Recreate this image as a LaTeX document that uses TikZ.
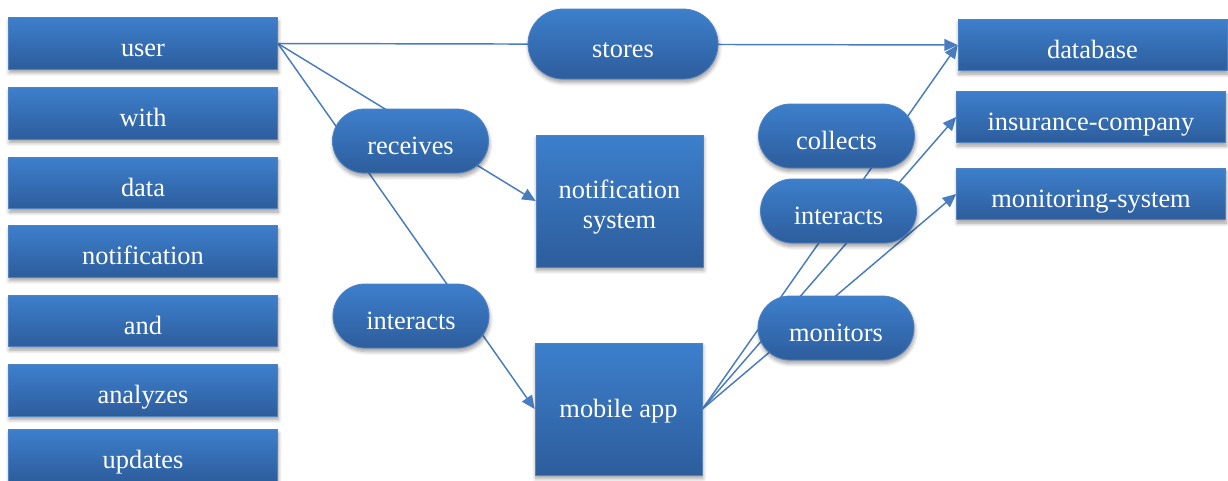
\documentclass[tikz,border=0pt]{standalone}
\usepackage{fontspec}
\setmainfont{Liberation Serif}
\newfontfamily\boxface{Liberation Serif}
\usetikzlibrary{arrows.meta,shadows.blur,backgrounds}

\definecolor{boxtop}{RGB}{61,127,204}
\definecolor{boxbot}{RGB}{45,93,156}
\definecolor{boxline}{RGB}{80,130,192}
\definecolor{wirecol}{RGB}{72,124,190}

\tikzset{
  boxtext/.style={text=white, align=center,
    font=\boxface\fontsize{19.8}{22.5}\selectfont},
  blockfill/.style={top color=boxtop, bottom color=boxbot, draw=boxline,
    line width=0.6pt, inner sep=0pt, boxtext,
    blur shadow={shadow xshift=0.6pt, shadow yshift=-2.6pt,
      shadow blur radius=2.8pt, shadow blur steps=6, shadow opacity=38}},
  oneline/.style={text height=17.6pt, text depth=4.3pt},
  lowline/.style={text height=21.6pt, text depth=1.5pt},
  wordbox/.style={blockfill, lowline, rectangle, minimum width=201.75pt, minimum height=38.5pt},
  bigbox/.style={blockfill, rectangle, minimum width=125.25pt, minimum height=99pt},
  verbpill/.style={blockfill, lowline, rectangle, rounded corners=23.9pt,
    minimum width=117pt, minimum height=48pt},
  wire/.style={draw=wirecol, line width=1.1pt},
  arrowwire/.style={wire, -{Triangle[length=10pt,width=9pt]}},
}

\begin{document}
\begin{tikzpicture}[x=0.75pt, y=-0.75pt]
  \useasboundingbox (0,0) rectangle (1228,480);

  % left column of words
  \node[wordbox] (user)  at (143,43.5)  {user};
  \node[wordbox] (with)  at (143,113.5) {with};
  \node[wordbox] (data)  at (143,183)   {data};
  \node[wordbox] (notif) at (143,251.5) {notification};
  \node[wordbox] (and)   at (143,321)   {and};
  \node[wordbox] (anal)  at (143,390.5) {analyzes};
  \node[wordbox] (upd)   at (143,455.5) {updates};

  % central entities
  \node[bigbox, label={[boxtext, yshift=-4.5pt]center:notification\\system}]
        (ns)  at (619.5,201) {};
  \node[bigbox, oneline] (app) at (618.5,409) {mobile app};

  % right column of entities
  \node[wordbox] (db)  at (1092.5,45) {database};
  \node[wordbox] (ins) at (1091,117)  {insurance-company};
  \node[wordbox] (mon) at (1091,194)  {monitoring-system};

  % relation labels
  \node[verbpill, minimum width=142.5pt, minimum height=52.5pt, rounded corners=26.2pt]
        (stores) at (623,44) {stores};
  \node[verbpill] (recv)  at (410.5,141) {receives};
  \node[verbpill] (intl)  at (411,316)   {interacts};
  \node[verbpill] (coll)  at (836.5,136) {collects};
  \node[verbpill] (intr)  at (838.5,211) {interacts};
  \node[verbpill] (mons)  at (836,328)   {monitors};

  % connectors run behind the labels
  \begin{pgfonlayer}{background}
    \draw[arrowwire] (user.east) -- (db.west);
    \draw[arrowwire] (user.east) -- (ns.west);
    \draw[arrowwire] (user.east) -- (app.west);
    \draw[arrowwire] (app.east) -- (db.west);
    \draw[arrowwire] (app.east) -- (ins.west);
    \draw[arrowwire] (app.east) -- (mon.west);
  \end{pgfonlayer}
\end{tikzpicture}
\end{document}
